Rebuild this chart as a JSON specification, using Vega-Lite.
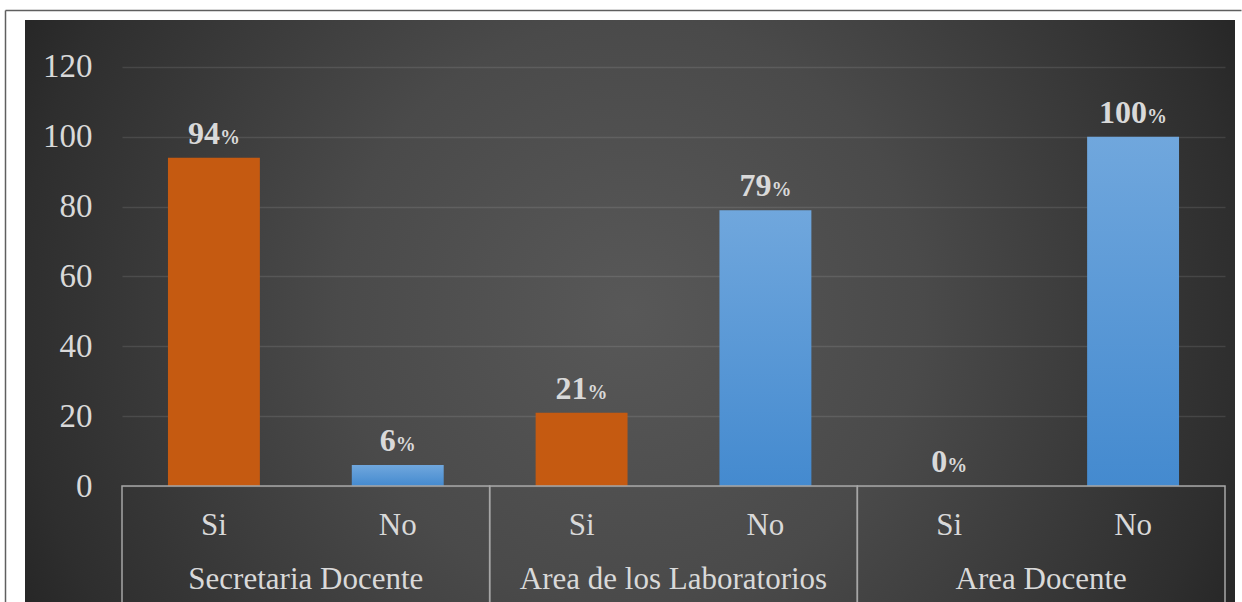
{
  "$schema": "https://vega.github.io/schema/vega-lite/v6.json",
  "width": 1210,
  "height": 582,
  "autosize": {"type": "none"},
  "padding": {"left": 25, "top": 20, "right": 7, "bottom": 0},
  "background": "#ffffff",
  "view": {
    "stroke": null,
    "fill": {
      "gradient": "radial",
      "x1": 0.5, "y1": 0.5, "r1": 0,
      "x2": 0.5, "y2": 0.5, "r2": 0.56,
      "stops": [
        {"offset": 0, "color": "#585858"},
        {"offset": 0.43, "color": "#4a4a4a"},
        {"offset": 0.9, "color": "#2e2e2e"},
        {"offset": 1, "color": "#262626"}
      ]
    }
  },
  "config": {
    "font": "Liberation Serif",
    "axis": {"labelFont": "Liberation Serif", "labelColor": "#d9d9d9", "labelLimit": 0}
  },
  "data": {
    "values": [
      {"group": "Secretaria Docente", "answer": "Si", "pct": 94},
      {"group": "Secretaria Docente", "answer": "No", "pct": 6},
      {"group": "Area de los Laboratorios", "answer": "Si", "pct": 21},
      {"group": "Area de los Laboratorios", "answer": "No", "pct": 79},
      {"group": "Area Docente", "answer": "Si", "pct": 0},
      {"group": "Area Docente", "answer": "No", "pct": 100}
    ]
  },
  "transform": [
    {"calculate": "datum.group + '|' + datum.answer", "as": "key"},
    {"calculate": "length(toString(datum.pct))", "as": "digits"}
  ],
  "resolve": {
    "scale": {"x": "independent", "xOffset": "independent"},
    "axis": {"x": "independent", "y": "independent"}
  },
  "layer": [
    {
      "resolve": {"scale": {"xOffset": "independent"}},
      "encoding": {
        "x": {
          "field": "key",
          "type": "nominal",
          "scale": {
            "domain": [
              "Secretaria Docente|Si", "Secretaria Docente|No",
              "Area de los Laboratorios|Si", "Area de los Laboratorios|No",
              "Area Docente|Si", "Area Docente|No"
            ],
            "range": [97, 1200],
            "paddingInner": 0.5,
            "paddingOuter": 0.25
          },
          "axis": {
            "orient": "bottom",
            "offset": -116,
            "title": null,
            "domain": false,
            "ticks": false,
            "labelAngle": 0,
            "labelExpr": "split(datum.value, '|')[1]",
            "labelPadding": 48,
            "labelBaseline": "alphabetic",
            "labelFontSize": 31
          }
        },
        "y": {
          "field": "pct",
          "type": "quantitative",
          "scale": {"domain": [-33.22, 136.32], "range": [582, -10], "nice": false, "zero": false},
          "axis": {
            "values": [0, 20, 40, 60, 80, 100, 120],
            "offset": -97,
            "title": null,
            "domain": false,
            "ticks": false,
            "labelPadding": 30,
            "labelFontSize": 33,
            "grid": true,
            "gridColor": "#ffffff",
            "gridOpacity": 0.1,
            "gridWidth": 1.5
          }
        }
      },
      "layer": [
        {
          "mark": {"type": "bar"},
          "encoding": {
            "color": {
              "condition": {"test": "datum.answer === 'Si'", "value": "#c55a11"},
              "value": {
                "gradient": "linear",
                "x1": 0, "y1": 0, "x2": 0, "y2": 1,
                "stops": [
                  {"offset": 0, "color": "#70a7dd"},
                  {"offset": 1, "color": "#448acf"}
                ]
              }
            }
          }
        },
        {
          "mark": {
            "type": "text",
            "align": "right",
            "baseline": "alphabetic",
            "dy": -14,
            "fontSize": 32,
            "fontWeight": "bold",
            "color": "#d9d9d9"
          },
          "encoding": {
            "text": {"field": "pct", "type": "quantitative"},
            "xOffset": {
              "field": "digits",
              "type": "quantitative",
              "scale": {"domain": [1, 3], "range": [43.96, 59.96]}
            }
          }
        },
        {
          "mark": {
            "type": "text",
            "align": "left",
            "baseline": "alphabetic",
            "dy": -14,
            "fontSize": 20,
            "fontWeight": "bold",
            "color": "#d9d9d9",
            "text": "%"
          },
          "encoding": {
            "xOffset": {
              "field": "digits",
              "type": "quantitative",
              "scale": {"domain": [1, 3], "range": [43.96, 59.96]}
            }
          }
        }
      ]
    },
    {
      "transform": [{"filter": "datum.answer === 'Si'"}],
      "encoding": {
        "x": {
          "field": "group",
          "type": "nominal",
          "scale": {
            "domain": ["Secretaria Docente", "Area de los Laboratorios", "Area Docente"],
            "range": [-20, 1216],
            "paddingInner": 0,
            "paddingOuter": 0.18087,
            "align": 0.8797
          },
          "axis": {
            "orient": "top",
            "offset": 10,
            "title": null,
            "labels": false,
            "ticks": false,
            "domain": true,
            "domainColor": "#5f5f5f",
            "domainWidth": 1.5
          }
        }
      },
      "layer": [
        {
          "mark": {"type": "rect", "fill": null, "stroke": "#a6a6a6", "strokeWidth": 1.5},
          "encoding": {
            "y": {
              "datum": 0,
              "type": "quantitative",
              "scale": {"domain": [-33.22, 136.32], "range": [582, -10], "nice": false, "zero": false},
              "axis": {
                "orient": "left",
                "offset": 20,
                "title": null,
                "labels": false,
                "ticks": false,
                "grid": false,
                "domain": true,
                "domainColor": "#5f5f5f",
                "domainWidth": 1.5
              }
            },
            "y2": {"datum": -36}
          }
        },
        {
          "mark": {
            "type": "text",
            "align": "center",
            "baseline": "alphabetic",
            "fontSize": 31,
            "color": "#d9d9d9"
          },
          "encoding": {
            "text": {"field": "group"},
            "y": {"datum": -29.5, "type": "quantitative"}
          }
        }
      ]
    }
  ]
}
